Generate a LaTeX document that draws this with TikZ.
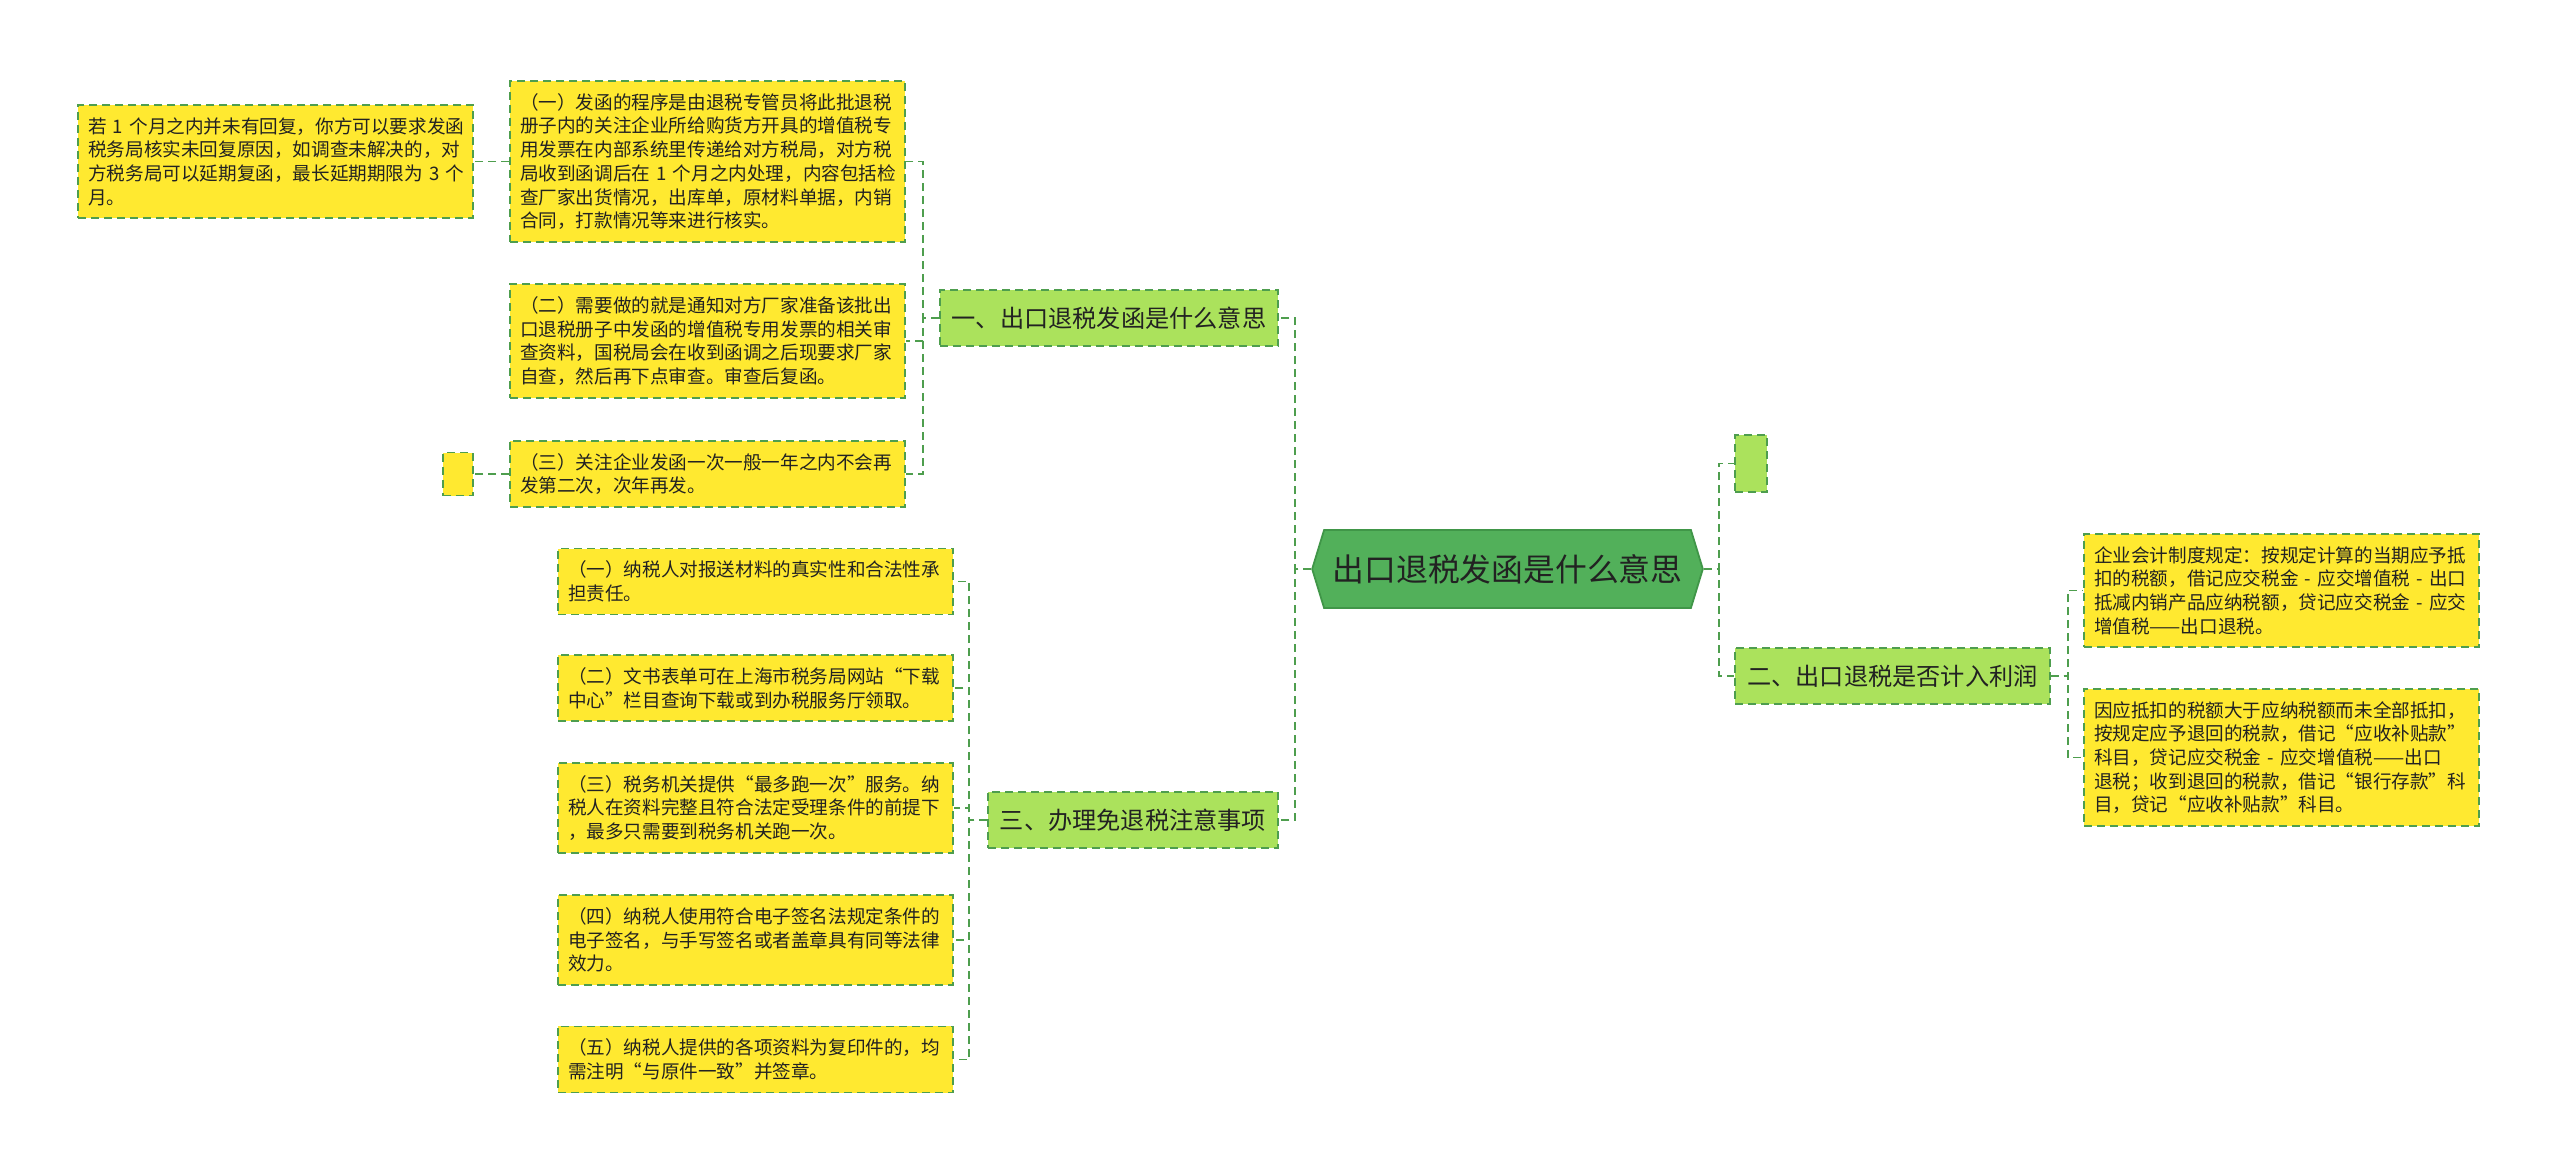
\documentclass[tikz,border=0pt]{standalone}
\usepackage{fontspec}
\setmainfont{Noto Sans CJK SC}
\usetikzlibrary{positioning,shapes.symbols}

\definecolor{leafyellow}{RGB}{255,233,48}
\definecolor{branchgreen}{RGB}{171,226,92}
\definecolor{rootgreen}{RGB}{82,176,90}
\definecolor{rootedge}{RGB}{64,150,72}
\definecolor{dashgreen}{RGB}{78,158,78}
\definecolor{inktext}{RGB}{34,34,34}

\begin{document}
\begin{tikzpicture}[
  x=0.5pt, y=-0.5pt,
  every node/.style={text=inktext},
  edgedash/.style={draw=dashgreen, dash pattern=on 4pt off 2.5pt, line width=0.9pt},
  leaf/.style={rectangle, edgedash, fill=leafyellow, text width=187.5pt, inner xsep=5pt, inner ysep=6.2pt, align=left, font=\fontsize{9.3}{11.85}\selectfont},
  stub/.style={rectangle, edgedash, inner sep=0pt},
  branch/.style={rectangle, edgedash, fill=branchgreen, minimum height=28pt, inner xsep=6pt, font=\fontsize{12.1}{14}\selectfont},
  topic/.style={signal, signal to=west and east, signal pointer angle=146, draw=rootedge, line width=0.9pt, fill=rootgreen, minimum height=39pt, inner xsep=4.25pt, font=\fontsize{15.9}{18}\selectfont},
  link/.style={edgedash}
]
\useasboundingbox (0,0) rectangle (2560,1174);

% Central topic
\node[topic] (R) at (1507.5,569) {出口退税发函是什么意思};

% Branches
\node[branch] (B1) at (1109,318) {一、出口退税发函是什么意思};
\node[branch] (B3) at (1133,820) {三、办理免退税注意事项};
\node[branch] (B2) at (1892.5,676) {二、出口退税是否计入利润};
\node[stub, fill=branchgreen, minimum width=16pt, minimum height=28.5pt] (E2) at (1751,463.5) {};

% Leaves of branch one
\node[leaf] (L1a) at (707.5,161.5) {（一）发函的程序是由退税专管员将此批退税\\册子内的关注企业所给购货方开具的增值税专\\用发票在内部系统里传递给对方税局，对方税\\局收到函调后在~1~个月之内处理，内容包括检\\查厂家出货情况，出库单，原材料单据，内销\\合同，打款情况等来进行核实。};
\node[leaf] (L1b) at (707.5,341) {（二）需要做的就是通知对方厂家准备该批出\\口退税册子中发函的增值税专用发票的相关审\\查资料，国税局会在收到函调之后现要求厂家\\自查，然后再下点审查。审查后复函。};
\node[leaf] (L1c) at (707.5,474) {（三）关注企业发函一次一般一年之内不会再\\发第二次，次年再发。};
\node[leaf, left=17.5pt of L1a] (F) {若~1~个月之内并未有回复，你方可以要求发函\\税务局核实未回复原因，如调查未解决的，对\\方税务局可以延期复函，最长延期期限为~3~个\\月。};
\node[stub, fill=leafyellow, minimum width=15pt, minimum height=21.5pt, left=17.5pt of L1c] (E1) {};

% Leaves of branch three
\node[leaf] (L3a) at (755.5,581.5) {（一）纳税人对报送材料的真实性和合法性承\\担责任。};
\node[leaf] (L3b) at (755.5,688) {（二）文书表单可在上海市税务局网站“下载\\中心”栏目查询下载或到办税服务厅领取。};
\node[leaf] (L3c) at (755.5,808) {（三）税务机关提供“最多跑一次”服务。纳\\税人在资料完整且符合法定受理条件的前提下\\，最多只需要到税务机关跑一次。};
\node[leaf] (L3d) at (755.5,940) {（四）纳税人使用符合电子签名法规定条件的\\电子签名，与手写签名或者盖章具有同等法律\\效力。};
\node[leaf] (L3e) at (755.5,1059.5) {（五）纳税人提供的各项资料为复印件的，均\\需注明“与原件一致”并签章。};

% Leaves of branch two
\node[leaf] (R2a) at (2281.5,590.5) {企业会计制度规定：按规定计算的当期应予抵\\扣的税额，借记应交税金~-~应交增值税~-~出口\\抵减内销产品应纳税额，贷记应交税金~-~应交\\增值税——出口退税。};
\node[leaf] (R2b) at (2281.5,757.5) {因应抵扣的税额大于应纳税额而未全部抵扣，\\按规定应予退回的税款，借记“应收补贴款”\\科目，贷记应交税金~-~应交增值税——出口\\退税；收到退回的税款，借记“银行存款”科\\目，贷记“应收补贴款”科目。};

% Connectors
\draw[link] (R.west) -- ++(-16,0) |- (B1.east);
\draw[link] (R.west) -- ++(-16,0) |- (B3.east);
\draw[link] (R.east) -- ++(15,0) |- (E2.west);
\draw[link] (R.east) -- ++(15,0) |- (B2.west);

\draw[link] (B1.west) -- ++(-16,0) |- (L1a.east);
\draw[link] (B1.west) -- ++(-16,0) |- (L1b.east);
\draw[link] (B1.west) -- ++(-16,0) |- (L1c.east);
\draw[link] (L1a.west) -- (F.east);
\draw[link] (L1c.west) -- (E1.east);

\draw[link] (B3.west) -- ++(-18,0) |- (L3a.east);
\draw[link] (B3.west) -- ++(-18,0) |- (L3b.east);
\draw[link] (B3.west) -- ++(-18,0) |- (L3c.east);
\draw[link] (B3.west) -- ++(-18,0) |- (L3d.east);
\draw[link] (B3.west) -- ++(-18,0) |- (L3e.east);

\draw[link] (B2.east) -- ++(17,0) |- (R2a.west);
\draw[link] (B2.east) -- ++(17,0) |- (R2b.west);

\end{tikzpicture}
\end{document}
